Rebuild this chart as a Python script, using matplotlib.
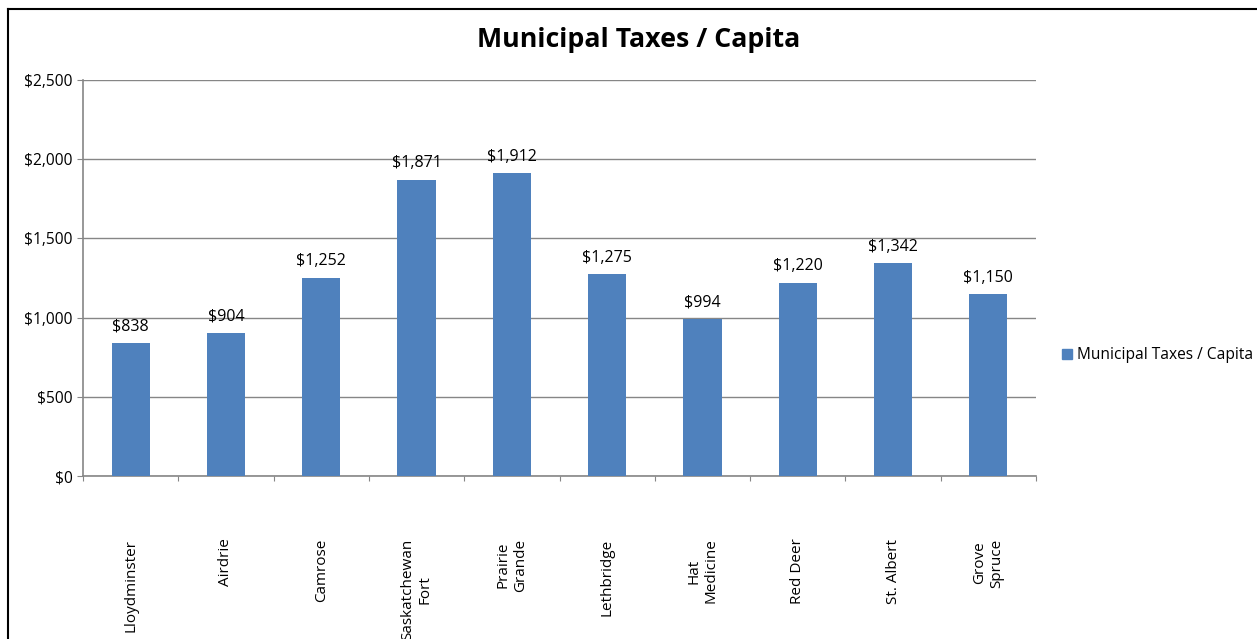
import matplotlib
matplotlib.use("Agg")
import matplotlib.pyplot as plt
from matplotlib.lines import Line2D
from matplotlib.ticker import FuncFormatter, FixedLocator
import numpy as np

categories = ["Lloydminster", "Airdrie", "Camrose", "Saskatchewan\nFort", "Prairie\nGrande",
              "Lethbridge", "Hat\nMedicine", "Red Deer", "St. Albert", "Grove\nSpruce"]
values = [838, 904, 1252, 1871, 1912, 1275, 994, 1220, 1342, 1150]
series_name = "Municipal Taxes / Capita"
title = "Municipal Taxes / Capita"

plt.rcParams['font.family'] = ['Open Sans', 'DejaVu Sans']

W, H = 1257, 639
fig = plt.figure(figsize=(W / 100, H / 100), dpi=100)
ax = fig.add_axes([83 / W, 1 - 476 / H, (1036 - 83) / W, (476 - 80) / H])

bar_color = "#4F81BD"
grid_color = "#868686"
x = np.arange(len(categories))
bars = ax.bar(x, values, width=0.4, color=bar_color, label=series_name, zorder=3)

ax.set_xlim(-0.5, len(categories) - 0.5)
ax.set_ylim(0, 2500)
ax.set_yticks(np.arange(0, 2501, 500))
ax.yaxis.set_major_formatter(FuncFormatter(lambda v, p: f"${v:,.0f}"))
ax.grid(axis='y', color=grid_color, linewidth=1, zorder=0)

for s in ['top', 'right']:
    ax.spines[s].set_visible(False)
for s in ['left', 'bottom']:
    ax.spines[s].set_color(grid_color)
    ax.spines[s].set_linewidth(1.2)

ax.tick_params(axis='y', length=4.3, color=grid_color, labelsize=11.2, pad=3)
ax.xaxis.set_major_locator(FixedLocator(np.arange(-0.5, len(categories), 1)))
ax.tick_params(axis='x', which='major', length=3.6, color=grid_color, labelbottom=False)
ax.set_xticks(x, minor=True)
ax.tick_params(axis='x', which='minor', length=0, labelsize=11, pad=45)
ax.set_xticklabels(categories, minor=True, rotation=90, ha='center', va='top',
                   multialignment='center')

for xi, v in zip(x, values):
    ax.annotate(f"${v:,}", (xi, v), xytext=(0, 6), textcoords='offset points',
                ha='center', va='bottom', fontsize=11.5)

fig.text(639 / W, 1 - 40 / H, title, ha='center', va='center', fontsize=19.3, fontweight='bold')

handle = Line2D([], [], marker='s', linestyle='none', markersize=6.5,
                markerfacecolor=bar_color, markeredgecolor=bar_color)
fig.legend([handle], [series_name], loc='center left',
           bbox_to_anchor=(1059 / W, 1 - 355 / H), frameon=False, fontsize=11.2,
           handletextpad=0.15, handlelength=1.0, borderaxespad=0, borderpad=0)

# outer chart frame (left and top edges visible)
fig.add_artist(Line2D([8 / W, 8 / W], [0, 1 - 9 / H], transform=fig.transFigure,
                      color='black', linewidth=1.5))
fig.add_artist(Line2D([8 / W, 1], [1 - 9 / H, 1 - 9 / H], transform=fig.transFigure,
                      color='black', linewidth=1.5))

fig.savefig("out.png", dpi=100, facecolor='white')
